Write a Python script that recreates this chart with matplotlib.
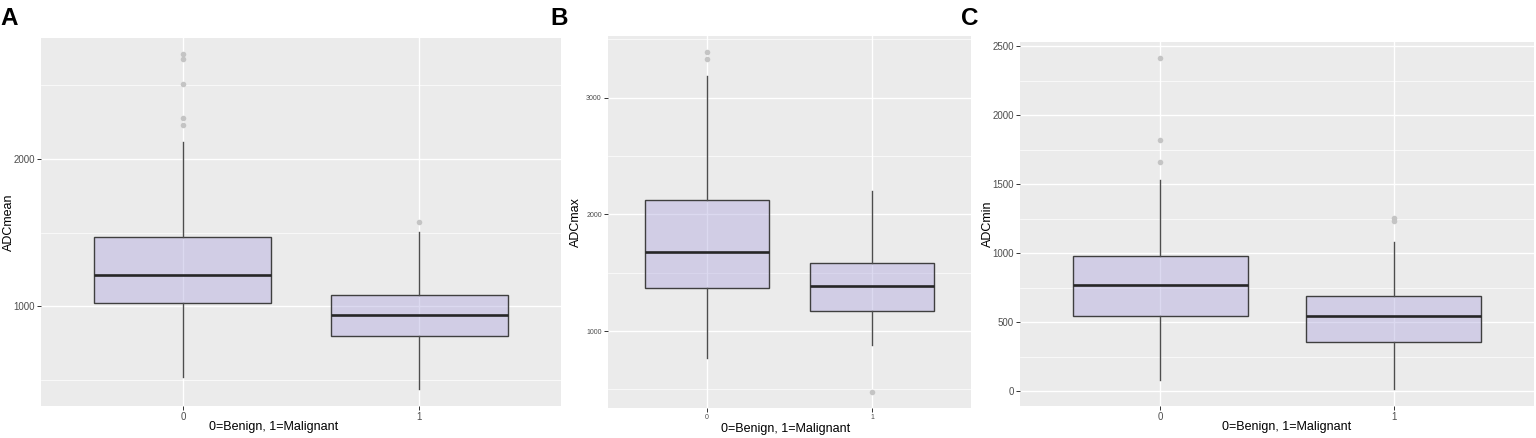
"""ADC box plots, benign (0) vs malignant (1): panels A-C (ADCmean, ADCmax, ADCmin)."""

import matplotlib
matplotlib.use("Agg")
import matplotlib.pyplot as plt
from matplotlib.colors import to_rgba

plt.rcParams["font.family"] = ["Liberation Sans", "DejaVu Sans"]

FIG_W, FIG_H = 1536, 438
GROUPS = ["0", "1"]
XLABEL = "0=Benign, 1=Malignant"

# five-number summaries: whislo, q1, med, q3, whishi
MEAN_STATS = [[517, 1020, 1211, 1469, 2116], [435, 796, 939, 1075, 1503]]
MEAN_FLIERS = [[2714, 2680, 2510, 2279, 2231], [1571]]
MAX_STATS = [[771, 1371, 1674, 2120, 3183], [877, 1169, 1385, 1585, 2202]]
MAX_FLIERS = [[3388, 3334], [477]]
MIN_STATS = [[78, 541, 766, 981, 1529], [15, 353, 544, 691, 1083]]
MIN_FLIERS = [[2413, 1821, 1662], [1257, 1233]]

BG = "#EBEBEB"
FILL = to_rgba("#ADA5DD", 0.42)


def to_bxp(stats, fliers):
    out = []
    for (lo, q1, med, q3, hi), fl in zip(stats, fliers):
        out.append({"whislo": lo, "q1": q1, "med": med, "q3": q3,
                    "whishi": hi, "fliers": fl})
    return out


def panel(fig, rect_px, letter, letter_x, ylabel, stats, fliers, ylim,
          major, minor, tick_fs, xlab_frac):
    l, t, r, b = rect_px
    ax = fig.add_axes([l / FIG_W, 1 - b / FIG_H, (r - l) / FIG_W, (b - t) / FIG_H])
    ax.set_facecolor(BG)
    for s in ax.spines.values():
        s.set_visible(False)

    ax.set_yticks(major)
    ax.set_yticks(minor, minor=True)
    ax.grid(True, which="major", color="white", lw=1.0)
    ax.grid(True, which="minor", axis="y", color="white", lw=0.5)
    ax.set_axisbelow(True)

    ax.bxp(to_bxp(stats, fliers), positions=[0, 1], widths=0.75,
           patch_artist=True, showcaps=False,
           boxprops=dict(facecolor=FILL, edgecolor="#3f3f3f", linewidth=1.0),
           medianprops=dict(color="#262626", linewidth=1.9),
           whiskerprops=dict(color="#4d4d4d", linewidth=1.0),
           flierprops=dict(marker="o", markerfacecolor="#c4c4c4",
                           markeredgecolor="none", markersize=4))

    ax.set_xlim(-0.6, 1.6)
    ax.set_ylim(*ylim)
    ax.set_xticks([0, 1])
    ax.set_xticklabels(GROUPS)
    ax.tick_params(which="major", color="#333333", length=3, width=0.7,
                   pad=1.5, labelsize=tick_fs, labelcolor="#4d4d4d")
    ax.tick_params(which="minor", length=0)

    ax.set_ylabel(ylabel, fontsize=9)
    ax.yaxis.set_label_coords(-26 / (r - l), 0.5)
    ax.set_xlabel(XLABEL, fontsize=9)
    ax.xaxis.set_label_coords(xlab_frac, -15 / (b - t))

    fig.text(letter_x / FIG_W, 1 - 25 / FIG_H, letter, fontsize=17.5,
             fontweight="bold", va="baseline", ha="left")
    return ax


def main() -> None:
    fig = plt.figure(figsize=(FIG_W / 100, FIG_H / 100), dpi=100)

    panel(fig, (41, 38, 561, 406), "A", 0, "ADCmean", MEAN_STATS, MEAN_FLIERS,
          (320, 2823), [1000, 2000], [500, 1500, 2500], 7, 0.448)
    panel(fig, (608, 36, 971, 408), "B", 550, "ADCmax", MAX_STATS, MAX_FLIERS,
          (340, 3529), [1000, 2000, 3000], [500, 1500, 2500, 3500], 5, 0.488)
    panel(fig, (1020, 42, 1534, 406), "C", 961, "ADCmin", MIN_STATS, MIN_FLIERS,
          (-109, 2531), [0, 500, 1000, 1500, 2000, 2500],
          [250, 750, 1250, 1750, 2250], 7, 0.519)

    fig.savefig("out.png", dpi=100)
    plt.close(fig)


if __name__ == "__main__":
    main()
